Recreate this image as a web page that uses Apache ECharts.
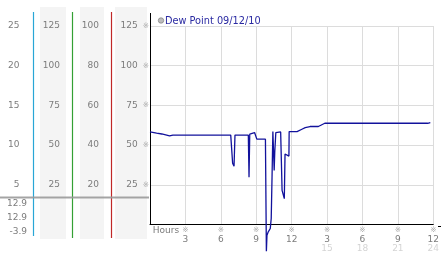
<!DOCTYPE html>
<html><head><meta charset="utf-8">
<script src="https://cdn.jsdelivr.net/npm/echarts@6/dist/echarts.min.js"></script>
<style>html,body{margin:0;padding:0;background:#fff}#c{width:442px;height:253px}</style>
</head><body><div id="c"></div>
<script>
// ---- data ----
const seriesName = 'Dew Point 09/12/10';
const hours = [0, 0.56, 1.0, 1.66, 1.94, 6.84, 7.0, 7.12, 7.2, 8.33, 8.39, 8.45, 8.53, 8.86, 9.0, 9.05,
  9.78, 9.86, 9.91, 10.02, 10.19, 10.27, 10.34, 10.41, 10.52, 10.57, 10.66, 10.8, 11.07, 11.13, 11.19,
  11.3, 11.38, 11.44, 11.77, 11.79, 12.46, 12.6, 12.87, 13.15, 13.56, 14.26, 14.39, 14.81, 23.11,
  23.26, 23.53, 23.67, 23.75];
const dewPoint = [58.3, 57.5, 57, 55.8, 56.3, 56.3, 38.6, 36.7, 56.3, 56.3, 29.8, 56.9, 57.3, 57.9, 57.7, 53.75,
  53.75, -16.9, -6.7, -4.6, -2.5, 3.75, 30, 58.5, 34, 45.6, 57.9, 58.3, 58.3, 40, 21.5,
  20.4, 16.3, 44.4, 43.1, 58.5, 58.5, 59.4, 60, 61, 61.7, 61.7, 62.7, 63.75, 63.75,
  64.4, 63.75, 64.4, 64.1];
const hourTicks = ['Hours', '3', '6', '9', '12', '3', '6', '9', '12'];
const hour24Ticks = ['', '', '', '', '', '15', '18', '21', '24'];
const mainTicks = [25, 50, 75, 100, 125];
const col1Ticks = [5, 10, 15, 20, 25];
const col2Ticks = [25, 50, 75, 100, 125];
const col3Ticks = [20, 40, 60, 80, 100];
const statLabels = ['12.9', '12.9', '-3.9'];

// ---- chart ----
const FONT = 'DejaVu Sans';
const LBL = '#7c7c7c';
const MARK = '※';
const chart = echarts.init(document.getElementById('c'), null, {renderer: 'canvas'});

function sideAxis(ticks, offset) {
  return {
    type: 'value', gridIndex: 0, position: 'left', offset: offset,
    min: 0, max: ticks[ticks.length - 1], interval: ticks[1] - ticks[0],
    axisLine: {show: false}, axisTick: {show: false}, splitLine: {show: false},
    axisLabel: {margin: 0, showMinLabel: false, color: LBL, fontSize: 9, fontFamily: FONT}
  };
}

const graphics = [
  {type: 'rect', z: -10, shape: {x: 40, y: 7, width: 26, height: 232}, style: {fill: '#f4f4f4'}},
  {type: 'rect', z: -10, shape: {x: 80, y: 7, width: 24, height: 232}, style: {fill: '#f4f4f4'}},
  {type: 'rect', z: -10, shape: {x: 115, y: 7, width: 32, height: 232}, style: {fill: '#f4f4f4'}},
  {type: 'line', z: 1, shape: {x1: 33.5, y1: 12, x2: 33.5, y2: 236}, style: {stroke: '#28a6d6', lineWidth: 1.2}},
  {type: 'line', z: 1, shape: {x1: 72.5, y1: 12, x2: 72.5, y2: 238}, style: {stroke: '#34a034', lineWidth: 1.2}},
  {type: 'line', z: 1, shape: {x1: 111.5, y1: 12, x2: 111.5, y2: 238}, style: {stroke: '#c02828', lineWidth: 1.2}},
  {type: 'line', z: 2, shape: {x1: 0, y1: 197.5, x2: 149, y2: 197.5}, style: {stroke: '#9a9a9a', lineWidth: 2, opacity: 0.9}},
  {type: 'line', z: 2, shape: {x1: 150.5, y1: 13, x2: 150.5, y2: 27}, style: {stroke: '#000', lineWidth: 1}},
  {type: 'line', z: 2, shape: {x1: 438, y1: 226.5, x2: 441, y2: 226.5}, style: {stroke: '#000', lineWidth: 1}},
  {type: 'circle', z: 5, shape: {cx: 161, cy: 20.5, r: 2.7}, style: {fill: '#bdbdbd', stroke: '#888', lineWidth: 0.8}},
  {type: 'text', z: 5, style: {text: seriesName, x: 165, y: 21, align: 'left', verticalAlign: 'middle',
    fontSize: 9.75, fontFamily: FONT, fill: '#2a2aa2'}}
];
statLabels.forEach((t, i) => {
  graphics.push({type: 'text', z: 5, style: {text: t, x: 27, y: 204 + i * 14, align: 'right', verticalAlign: 'middle',
    fontSize: 9, fontFamily: FONT, fill: LBL}});
});

chart.setOption({
  animation: false,
  backgroundColor: '#fff',
  grid: {left: 150, right: 3.5, top: 26, bottom: 27, containLabel: false},
  xAxis: {
    type: 'value', min: 0, max: 24, interval: 3,
    axisLine: {show: true, lineStyle: {color: '#000', width: 1}},
    axisTick: {show: false},
    splitLine: {show: true, lineStyle: {color: '#dcdcdc', width: 1}},
    axisLabel: {
      margin: 2, fontFamily: FONT, fontSize: 9, color: LBL,
      formatter: function (v) {
        const i = Math.round(v / 3);
        if (i === 0) return '{hr|' + hourTicks[0] + '}';
        let s = '{m|' + MARK + '}\n{a|' + hourTicks[i] + '}';
        if (hour24Ticks[i]) s += '\n{b|' + hour24Ticks[i] + '}';
        return s;
      },
      rich: {
        hr: {fontFamily: FONT, fontSize: 9, color: LBL, lineHeight: 9, padding: [0, 0, 0, 32]},
        m: {fontFamily: FONT, fontSize: 7.5, color: '#a8a8a8', lineHeight: 8},
        a: {fontFamily: FONT, fontSize: 9, color: LBL, lineHeight: 10},
        b: {fontFamily: FONT, fontSize: 9, color: '#d4d4d4', lineHeight: 8}
      }
    }
  },
  yAxis: [
    {
      type: 'value', position: 'left', min: 0, max: mainTicks[mainTicks.length - 1], interval: mainTicks[1] - mainTicks[0],
      axisLine: {show: true, lineStyle: {color: '#000', width: 1}},
      axisTick: {show: false},
      splitLine: {show: true, lineStyle: {color: '#dcdcdc', width: 1}},
      axisLabel: {
        margin: 1, showMinLabel: false,
        formatter: function (v) { return '{v|' + v + '}{s|' + MARK + '}'; },
        rich: {
          v: {fontFamily: FONT, fontSize: 9, color: LBL},
          s: {fontFamily: FONT, fontSize: 7.5, color: '#a8a8a8', padding: [0, 0, 0, 5]}
        }
      }
    },
    sideAxis(col3Ticks, 51),
    sideAxis(col2Ticks, 90),
    sideAxis(col1Ticks, 130.5)
  ],
  series: [{
    name: seriesName, type: 'line', xAxisIndex: 0, yAxisIndex: 0,
    data: hours.map((h, i) => [h, dewPoint[i]]),
    showSymbol: false, symbol: 'none', clip: false,
    lineStyle: {color: '#12129c', width: 1.3}
  }],
  graphic: graphics
});
</script></body></html>
